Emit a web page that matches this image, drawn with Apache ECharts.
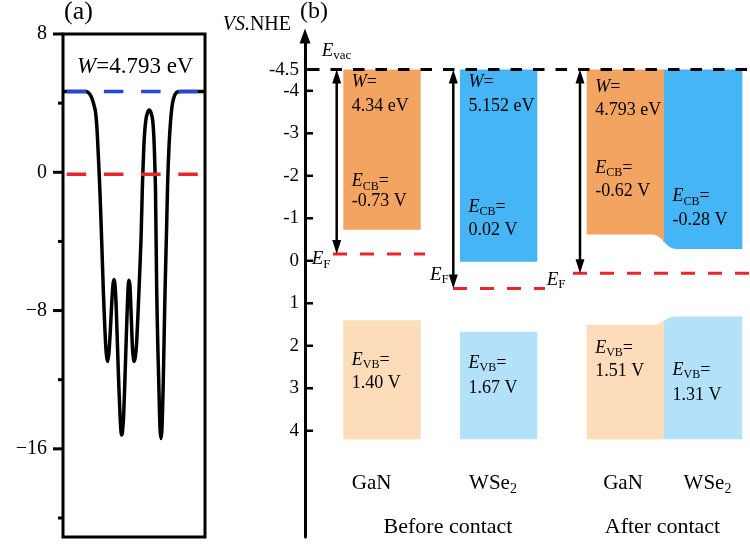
<!DOCTYPE html>
<html><head><meta charset="utf-8">
<script src="https://cdn.jsdelivr.net/npm/echarts@6/dist/echarts.min.js"></script>
<style>html,body{margin:0;padding:0;background:#fff}#c{width:750px;height:544px}</style>
</head><body><div id="c"></div>
<script>
// ---------------- DATA ----------------
// Panel (a): planar-averaged electrostatic potential (eV) along z
const potZ = [0, 15, 23, 25.5, 28, 30.5, 32.5, 34, 35.3, 36.5, 37.5, 38.7, 40.3, 42, 43.3, 44.7, 46, 47.3, 48.8, 50, 51, 52, 53.2, 55.3, 57, 58, 58.7, 59.5, 60.7, 62.7, 64.3, 65.3, 66, 67, 68.2, 69.5, 70.5, 71.3, 72.5, 73.7, 76, 78, 79.3, 80.2, 81.3, 82.8, 84.5, 86.3, 88, 89.7, 90.9, 91.8, 92.5, 93.7, 94.8, 95.7, 97, 98, 99, 100.3, 101.3, 102.2, 103.7, 104.7, 106, 107.5, 109, 110.5, 112.5, 115, 119, 142];
const potV = [4.68, 4.68, 4.67, 4.6, 4.4, 4.0, 3.5, 2.5, 1.0, -0.5, -2.0, -4.0, -6.8, -9.2, -10.5, -10.95, -10.4, -9.2, -7.5, -6.5, -6.2, -6.5, -7.8, -11.5, -14.0, -15.0, -15.2, -15.0, -14.0, -10.6, -7.8, -6.5, -6.25, -6.6, -8.3, -10.2, -10.8, -10.95, -10.6, -9.8, -6.8, -3.9, -1.0, 0.5, 2.0, 3.0, 3.45, 3.6, 3.45, 3.0, 2.0, 0.5, -1.0, -6.8, -10.0, -12.0, -14.8, -15.4, -14.8, -12.0, -9.0, -6.5, -3.0, -0.5, 1.5, 2.9, 3.8, 4.25, 4.55, 4.66, 4.68, 4.68];
const vacuumLevelA = 4.68;
const fermiLevelA = -0.11;
const workFunctionLabelA = '4.793';
const potTicks = [8, 0, -8, -16];
const potMinorTicks = [4, -4, -12, -20];

// Panel (b): band alignment vs. NHE
const nheTicks = [-4.5, -4, -3, -2, -1, 0, 1, 2, 3, 4];
const materials = ['GaN', 'WSe2'];
const stages = ['Before contact', 'After contact'];
const evacNHE = -4.5;
const workFnBefore = [4.34, 5.152];
const cbBefore = [-0.73, 0.02];
const vbBefore = [1.40, 1.67];
const workFnAfter = 4.793;
const cbAfter = [-0.62, -0.28];
const vbAfter = [1.51, 1.31];
const bandBottom = 4.2;

// ---------------- STYLE / LAYOUT ----------------
const F = "'Liberation Serif', 'Times New Roman', 'DejaVu Serif', serif";
const COL = { cb: ['#F4A461', '#45B5F6'], vb: ['#FDDCBA', '#B4E1FA'], red: '#E8262B', blue: '#2448D8', tick: '#000000' };
const LAY = {
  bandX: [[38.3, 115.7], [155, 232.3], [281.7, 359], [359, 437.3]],
  bend: 6,
  arrowX: [31.7, 148.3, 275],
  fermiX: [[28, 120], [148, 240], [268, 445]],
  vacX: [3, 445],
  textDx: 8.5,
  wY: [[-4.21, -3.63], [-4.21, -3.63], [-4.08, -3.55]],
  cbY: [[-1.86, -1.39], [-1.27, -0.73], [-2.18, -1.63], [-1.51, -0.96]],
  vbY: [[2.33, 2.88], [2.41, 3.0], [2.06, 2.61], [2.57, 3.16]],
  matY: 5.25, stageY: 6.26,
  matX: [66.7, 188, 318, 402.5], stageX: [143, 357.5],
  evacLbl: [16.7, -4.94],
  efLbl: [[6.7, -0.04], [125, 0.33], [241.7, 0.45]]
};

function rich(size) {
  const s = Math.round(size * 0.68);
  return {
    i: { fontFamily: F, fontSize: size, fontStyle: 'italic', lineHeight: size + 4, color: '#000' },
    r: { fontFamily: F, fontSize: size, lineHeight: size + 4, color: '#000' },
    s: { fontFamily: F, fontSize: s, lineHeight: s, verticalAlign: 'bottom', color: '#000' }
  };
}
function matText(m) { return m === 'WSe2' ? '{r|WSe}{s|2}' : '{r|' + m + '}'; }
function fmtV(v) { return v.toFixed(2) + ' V'; }

function tickRenderer(values, lengths, dir, width) {
  return function (params, api) {
    const ch = [];
    values.forEach((v, i) => {
      const p = api.coord([0, v]);
      ch.push({ type: 'rect', shape: { x: dir > 0 ? p[0] : p[0] - lengths[i], y: p[1] - width / 2, width: lengths[i], height: width }, style: { fill: COL.tick } });
    });
    return { type: 'group', children: ch };
  };
}

function renderB(params, api) {
  const c = (x, y) => api.coord([x, y]);
  const P = (x, y) => { const p = c(x, y); return p[0].toFixed(2) + ' ' + p[1].toFixed(2); };
  const ch = [];
  const rectEl = (x0, y0, x1, y1, fill) => {
    const a = c(x0, y0), b = c(x1, y1);
    return { type: 'rect', shape: { x: a[0], y: a[1], width: b[0] - a[0], height: b[1] - a[1] }, style: { fill } };
  };
  const pathEl = (d, fill) => ({ type: 'path', shape: { pathData: d }, style: { fill } });
  const dash = (x0, x1, y, color, arr, w) => {
    const a = c(x0, y), b = c(x1, y);
    return { type: 'line', shape: { x1: a[0], y1: a[1], x2: b[0], y2: b[1] }, style: { stroke: color, lineWidth: w, lineDash: arr } };
  };
  const txt = (x, y, text, size, align) => {
    const p = c(x, y);
    return { type: 'text', x: p[0], y: p[1], style: { text, rich: rich(size), align: align || 'left', verticalAlign: 'middle', fill: '#000', fontFamily: F, fontSize: size } };
  };
  const arrow = (x, yA, yB) => {
    const a = c(x, yA), b = c(x, yB), hl = 14, hw = 4.5;
    ch.push({ type: 'line', shape: { x1: a[0], y1: a[1] + hl - 1, x2: b[0], y2: b[1] - hl + 1 }, style: { stroke: '#000', lineWidth: 2.5 } });
    ch.push({ type: 'polygon', shape: { points: [[a[0], a[1]], [a[0] - hw, a[1] + hl], [a[0] + hw, a[1] + hl]] }, style: { fill: '#000' } });
    ch.push({ type: 'polygon', shape: { points: [[b[0], b[1]], [b[0] - hw, b[1] - hl], [b[0] + hw, b[1] - hl]] }, style: { fill: '#000' } });
  };

  [0, 1].forEach(k => {
    const [x0, x1] = LAY.bandX[k];
    ch.push(rectEl(x0, evacNHE, x1, cbBefore[k], COL.cb[k]));
    ch.push(rectEl(x0, vbBefore[k], x1, bandBottom, COL.vb[k]));
  });
  const a0 = LAY.bandX[2][0], am = LAY.bandX[2][1], a1 = LAY.bandX[3][1], d = LAY.bend;
  const cbMid = (cbAfter[0] + cbAfter[1]) / 2, vbMid = (vbAfter[0] + vbAfter[1]) / 2;
  ch.push(pathEl('M' + P(am - 1, evacNHE) + 'L' + P(a1, evacNHE) + 'L' + P(a1, cbAfter[1]) + 'L' + P(am + 2 * d, cbAfter[1]) +
    'Q' + P(am + d, cbAfter[1]) + ' ' + P(am, cbMid) + 'L' + P(am - 1, cbMid) + 'Z', COL.cb[1]));
  ch.push(pathEl('M' + P(a0, evacNHE) + 'L' + P(am, evacNHE) + 'L' + P(am, cbMid) +
    'Q' + P(am - d, cbAfter[0]) + ' ' + P(am - 2 * d, cbAfter[0]) + 'L' + P(a0, cbAfter[0]) + 'Z', COL.cb[0]));
  ch.push(pathEl('M' + P(am - 1, vbMid) + 'L' + P(am, vbMid) + 'Q' + P(am + d, vbAfter[1]) + ' ' + P(am + 2 * d, vbAfter[1]) +
    'L' + P(a1, vbAfter[1]) + 'L' + P(a1, bandBottom) + 'L' + P(am - 1, bandBottom) + 'Z', COL.vb[1]));
  ch.push(pathEl('M' + P(a0, bandBottom) + 'L' + P(a0, vbAfter[0]) + 'L' + P(am - 2 * d, vbAfter[0]) +
    'Q' + P(am - d, vbAfter[0]) + ' ' + P(am, vbMid) + 'L' + P(am, bandBottom) + 'Z', COL.vb[0]));

  const ef = [evacNHE + workFnBefore[0], evacNHE + workFnBefore[1], evacNHE + workFnAfter];
  ch.push(dash(LAY.vacX[0], LAY.vacX[1], evacNHE, '#000', [11.5, 11], 3));
  ef.forEach((v, k) => ch.push(dash(LAY.fermiX[k][0], LAY.fermiX[k][1], v, COL.red, [14, 13], 3)));
  ef.forEach((v, k) => arrow(LAY.arrowX[k], evacNHE, v));

  const wVals = [workFnBefore[0], workFnBefore[1], workFnAfter];
  wVals.forEach((w, k) => {
    const x = LAY.bandX[k][0] + LAY.textDx;
    ch.push(txt(x, LAY.wY[k][0], '{i|W}{r|=}', 18));
    ch.push(txt(x, LAY.wY[k][1], '{r|' + w + ' eV}', 18));
  });
  const cbs = [cbBefore[0], cbBefore[1], cbAfter[0], cbAfter[1]];
  const vbs = [vbBefore[0], vbBefore[1], vbAfter[0], vbAfter[1]];
  [0, 1, 2, 3].forEach(k => {
    const x = LAY.bandX[k][0] + LAY.textDx;
    ch.push(txt(x, LAY.cbY[k][0], '{i|E}{s|CB}{r|=}', 18));
    ch.push(txt(x, LAY.cbY[k][1], '{r|' + fmtV(cbs[k]) + '}', 18));
    ch.push(txt(x, LAY.vbY[k][0], '{i|E}{s|VB}{r|=}', 18));
    ch.push(txt(x, LAY.vbY[k][1], '{r|' + fmtV(vbs[k]) + '}', 18));
    ch.push(txt(LAY.matX[k], LAY.matY, matText(materials[k % 2]), 21, 'center'));
  });
  stages.forEach((s, k) => ch.push(txt(LAY.stageX[k], LAY.stageY, '{r|' + s + '}', 22, 'center')));
  ch.push(txt(LAY.evacLbl[0], LAY.evacLbl[1], '{i|E}{s|vac}', 19));
  LAY.efLbl.forEach(p => ch.push(txt(p[0], p[1], '{i|E}{s|F}', 19)));
  return { type: 'group', children: ch };
}

const chart = echarts.init(document.getElementById('c'), null, { renderer: 'canvas' });
const minusFmt = v => (v < 0 ? '\u2212' + Math.abs(v) : String(v));
const aTickVals = potTicks.concat(potMinorTicks);
const aTickLens = potTicks.map(() => 10).concat(potMinorTicks.map(() => 5));

chart.setOption({
  animation: false,
  backgroundColor: '#fff',
  textStyle: { fontFamily: F },
  grid: [
    { left: 63, right: 545, top: 34, bottom: 7, show: true, borderColor: '#000', borderWidth: 3, backgroundColor: 'transparent' },
    { left: 305, right: 0, top: 36, bottom: 7 }
  ],
  xAxis: [
    { type: 'value', gridIndex: 0, min: 0, max: 142, show: false },
    { type: 'value', gridIndex: 1, min: 0, max: 445, show: false }
  ],
  yAxis: [
    { type: 'value', gridIndex: 0, position: 'left', min: -21.1, max: 8, splitLine: { show: false },
      axisLine: { show: false }, axisTick: { show: false },
      axisLabel: { customValues: potTicks, formatter: minusFmt, fontFamily: F, fontSize: 20, color: '#000', margin: 16 } },
    { type: 'value', gridIndex: 1, position: 'left', min: -5.29, max: 6.5, inverse: true, splitLine: { show: false },
      axisLine: { show: true, symbol: ['none', 'triangle'], symbolSize: [11, 15], lineStyle: { color: '#000', width: 3 } },
      axisTick: { show: false },
      axisLabel: { customValues: nheTicks, formatter: v => String(v), fontFamily: F, fontSize: 19, color: '#000', margin: 6 } }
  ],
  graphic: [
    { type: 'text', left: 64, top: -1, style: { text: '(a)', fontFamily: F, fontSize: 26, fill: '#000' } },
    { type: 'text', left: 300, top: 0, style: { text: '(b)', fontFamily: F, fontSize: 24, fill: '#000' } },
    { type: 'text', right: 459, top: 15, style: { text: '{i|VS.}{r|NHE}', rich: rich(20) } },
    { type: 'text', left: 77, top: 55, style: { text: '{i|W}{r|=' + workFunctionLabelA + ' eV}', rich: rich(23) } }
  ],
  series: [
    { type: 'line', xAxisIndex: 0, yAxisIndex: 0, data: potZ.map((z, i) => [z, potV[i]]), smooth: 0.3,
      symbol: 'none', lineStyle: { color: '#000', width: 3.5 }, z: 2, silent: true },
    { type: 'line', xAxisIndex: 0, yAxisIndex: 0, data: [[3.7, vacuumLevelA], [138.5, vacuumLevelA]],
      symbol: 'none', lineStyle: { color: COL.blue, width: 3.5, type: [19.5, 17.7] }, z: 3, silent: true },
    { type: 'line', xAxisIndex: 0, yAxisIndex: 0, data: [[3.7, fermiLevelA], [138.5, fermiLevelA]],
      symbol: 'none', lineStyle: { color: COL.red, width: 3.5, type: [19.5, 17.7] }, z: 3, silent: true },
    { type: 'custom', xAxisIndex: 0, yAxisIndex: 0, data: [0], clip: false, silent: true, z: 5,
      renderItem: tickRenderer(aTickVals, aTickLens, -1, 3) },
    { type: 'custom', xAxisIndex: 1, yAxisIndex: 1, data: [0], clip: false, silent: true, z: 5,
      renderItem: tickRenderer(nheTicks, nheTicks.map(() => 8), 1, 2.5) },
    { type: 'custom', xAxisIndex: 1, yAxisIndex: 1, data: [0], renderItem: renderB, silent: true, z: 4 }
  ]
});
</script></body></html>
